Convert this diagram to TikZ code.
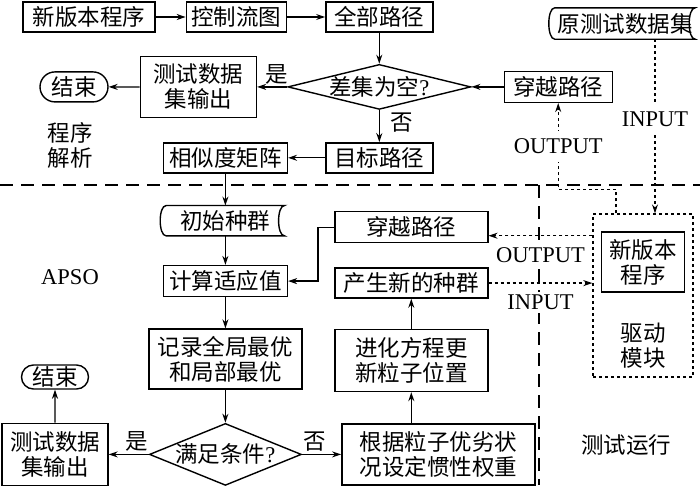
\documentclass[tikz,border=0pt]{standalone}
\usepackage{fontspec}
\setmainfont{Liberation Serif}
\newfontfamily\cjk{Noto Sans CJK SC}
\usetikzlibrary{arrows.meta, positioning, shapes.geometric, shapes.misc}

\begin{document}
\begin{tikzpicture}[
    x=1pt, y=-1pt,
    every node/.style={font=\cjk\fontsize{22.5}{25}\selectfont, align=center},
    box/.style={
        draw,
        line width=1.4pt,
        minimum height=30pt,
        inner xsep=5pt,
        inner ysep=2pt,
        align=center
    },
    endbox/.style={
        draw,
        rounded rectangle,
        line width=1.4pt,
        inner xsep=5pt,
        inner ysep=0pt,
        minimum width=78pt,
        minimum height=30pt
    },
    decision/.style={
        draw,
        diamond,
        line width=1.4pt,
        inner sep=0pt
    },
    latin/.style={font=\rmfamily\fontsize{22.5}{25}\selectfont},
    tag/.style={fill=white, inner xsep=2pt, inner ysep=3pt},
    arrow/.style={-{Stealth[length=9pt, width=6pt]}, line width=1.3pt},
    dotarrow/.style={-{Stealth[length=9pt, width=6pt]}, line width=1.3pt, dash pattern=on 3pt off 3pt},
    sepline/.style={line width=1.3pt, dash pattern=on 13pt off 8pt}
]
\useasboundingbox (0,0) rectangle (700,485);

\draw[sepline] (0,185) -- (700,185);
\draw[sepline] (539,185) -- (539,485);

\node[box, minimum width=132pt] (prog) at (89,17) {新版本程序};
\node[box, minimum width=100pt, right=30pt of prog] (cfg) {控制流图};
\node[box, minimum width=107pt, right=38pt of cfg] (allpath) {全部路径};
\node[decision, minimum width=183pt, minimum height=45pt, below=31pt of allpath] (diff) {};
\node (difftext) at (diff) {差集为空{\rmfamily ?}};
\node[box, minimum width=107pt, below=32pt of diff] (target) {目标路径};
\node[box, minimum width=124pt, left=37pt of target] (sim) {相似度矩阵};
\node[box, minimum width=116pt, minimum height=61pt, left=30pt of diff] (tdout1) {测试数据\\集输出};
\node[endbox, left=31pt of tdout1] (end1) {结束};
\node[box, minimum width=108pt, minimum height=31pt, right=32pt of diff] (cross1) {穿越路径};
\node[minimum width=140pt, minimum height=31pt, inner sep=0pt] (orig) at (625,23.5) {原测试数据集};
\node (progtext) at (70,145) {程序\\解析};

\node[minimum width=118pt, minimum height=30pt, inner sep=0pt, below=32pt of sim] (init) {初始种群};
\node[box, minimum width=124pt, minimum height=31pt, below=29pt of init] (fit) {计算适应值};
\node[box, minimum width=153pt, minimum height=60pt, below=31pt of fit] (rec) {记录全局最优\\和局部最优};
\node[decision, minimum width=152pt, minimum height=62pt, below=33pt of rec] (cond) {};
\node (condtext) at (cond) {满足条件{\rmfamily ?}};
\node[box, minimum width=106pt, minimum height=62pt, left=40pt of cond] (tdout2) {测试数据\\集输出};
\node[endbox, minimum width=77pt, minimum height=24pt, above=33pt of tdout2] (end2) {结束};
\node[box, minimum width=193pt, minimum height=61pt, right=39pt of cond] (weight) {根据粒子优劣状\\况设定惯性权重};
\node[box, minimum width=153pt, minimum height=62pt, above=31pt of weight, xshift=-27pt] (evo) {进化方程更\\新粒子位置};
\node[box, minimum width=153pt, above=30pt of evo] (newpop) {产生新的种群};
\node[box, minimum width=153pt, minimum height=31pt, above=24pt of newpop] (cross2) {穿越路径};

\node[draw, line width=1.3pt, dash pattern=on 3pt off 3pt, minimum width=100pt, minimum height=163pt] (driver) at (643,295.5) {};
\node[box, minimum width=83pt, minimum height=60pt, below=18pt of driver.north] (newver) {新版本\\程序};
\node (drvtext) at (643,346) {驱动\\模块};
\node (testrun) at (626,445) {测试运行};
\node[latin] (apso) at (70,277) {APSO};

\draw[line width=1.4pt] (orig.north west) -- (orig.north east)
    .. controls ([xshift=-8pt]orig.north east) and ([xshift=-8pt]orig.south east) .. (orig.south east)
    -- (orig.south west)
    .. controls ([xshift=-8pt]orig.south west) and ([xshift=-8pt]orig.north west) .. (orig.north west);
\draw[line width=1.4pt] (init.north west) -- (init.north east)
    .. controls ([xshift=-8pt]init.north east) and ([xshift=-8pt]init.south east) .. (init.south east)
    -- (init.south west)
    .. controls ([xshift=-8pt]init.south west) and ([xshift=-8pt]init.north west) .. (init.north west);

\draw[arrow] (prog) -- (cfg);
\draw[arrow] (cfg) -- (allpath);
\draw[arrow] (allpath) -- (diff);
\draw[arrow] (cross1) -- (diff);
\draw[arrow] (diff) -- node[above, inner sep=2pt, xshift=5pt] {是} (tdout1);
\draw[arrow] (tdout1) -- (end1);
\draw[arrow] (diff) -- node[right=9pt, inner sep=2pt, pos=0.4] {否} (target);
\draw[arrow] (target) -- (sim);
\draw[arrow] (sim) -- (init);
\draw[arrow] (init) -- (fit);
\draw[arrow] (fit) -- (rec);
\draw[arrow] (rec) -- (cond);
\draw[arrow] (cond) -- node[above, inner sep=2pt, xshift=8pt] {是} (tdout2);
\draw[arrow] (tdout2) -- (end2);
\draw[arrow] (cond) -- node[above, inner sep=2pt, xshift=-7pt] {否} (weight);
\draw[arrow] (evo.south |- weight.north) -- (evo);
\draw[arrow] (evo) -- (newpop);
\draw[arrow] (cross2.west) -- ++(-16,0) |- (fit.east);

\coordinate[below=8.5pt of cross2.east] (outB);
\draw[dotarrow] ([xshift=30pt]orig.south) -- node[latin, tag, inner ysep=8pt, pos=0.46] {INPUT} ([xshift=12pt]driver.north);
\draw[dotarrow] ([xshift=-27pt]driver.north) -- ++(0,-24) -| node[latin, tag, inner ysep=8pt, pos=0.75] {OUTPUT} (cross1.south);
\draw[dotarrow] (outB -| driver.west) -- node[latin, tag, below=8pt] {OUTPUT} (outB);
\draw[dotarrow] (newpop.east) -- node[latin, tag, below=8pt] {INPUT} (newpop.east -| driver.west);
\end{tikzpicture}
\end{document}
